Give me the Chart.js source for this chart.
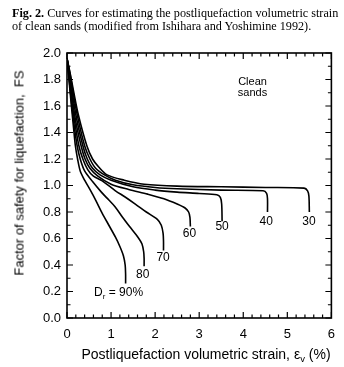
<!DOCTYPE html>
<html><head><meta charset="utf-8">
<script src="https://cdn.jsdelivr.net/npm/chart.js@4.4.1/dist/chart.umd.min.js"></script>
<style>
html,body{margin:0;padding:0;background:#fff;}
#wrap{position:relative;width:344px;height:367px;overflow:hidden;}
canvas{position:absolute;left:0;top:0;}
#cap{position:absolute;left:12px;top:7px;font-family:"Liberation Serif","Times New Roman",serif;font-size:12.2px;line-height:13px;color:#000;white-space:nowrap;}
.ttl{position:absolute;font-family:'Liberation Sans',Arial,sans-serif;color:#000;white-space:nowrap;}
</style></head><body>
<div id="wrap"><canvas id="c" width="344" height="367"></canvas>
<div id="cap"><b>Fig. 2.</b> Curves for estimating the postliquefaction volumetric strain<br>of clean sands (modified from Ishihara and Yoshimine 1992).</div>
<div class="ttl" style="left:206px;top:355px;transform:translate(-50%,-50%);font-size:14px;">Postliquefaction volumetric strain, ε<sub style="font-size:9.5px;">v</sub> (%)</div>
<div class="ttl" style="left:19px;top:173px;transform:translate(-50%,-50%) rotate(-90deg);font-size:13px;">Factor of safety for liquefaction,&nbsp;&nbsp;FS</div>
</div>
<script>
// Relative densities (%)
const densities = [30, 40, 50, 60, 70, 80, 90];
// Curves: volumetric strain (%) and factor of safety FS
const strain30 = [0,0.07,0.15,0.26,0.45,0.58,0.72,0.91,1.3,1.75,2.5,3.5,4.5,5.38,5.46,5.49,5.5];
const fs30     = [1.96,1.85,1.71,1.53,1.3,1.2,1.14,1.08,1.04,1.01,0.995,0.99,0.985,0.98,0.96,0.92,0.8];
const strain40 = [0,0.07,0.14,0.24,0.4,0.52,0.65,0.85,1.1,1.5,2.0,2.5,3.5,4.45,4.53,4.55,4.55];
const fs40     = [1.96,1.84,1.7,1.52,1.3,1.2,1.13,1.08,1.04,1.005,0.985,0.975,0.965,0.96,0.94,0.9,0.8];
const strain50 = [0,0.06,0.13,0.22,0.36,0.46,0.58,0.75,1.0,1.5,2.0,2.5,3.0,3.4,3.48,3.51,3.52];
const fs50     = [1.96,1.84,1.68,1.5,1.3,1.2,1.13,1.08,1.04,0.99,0.965,0.95,0.94,0.93,0.91,0.86,0.73];
const strain60 = [0,0.06,0.12,0.2,0.32,0.41,0.52,0.7,1.0,1.4,1.83,2.2,2.5,2.68,2.76,2.79,2.8];
const fs60     = [1.96,1.82,1.66,1.48,1.3,1.2,1.13,1.07,1.01,0.97,0.935,0.9,0.86,0.83,0.8,0.76,0.69];
const strain70 = [0,0.05,0.1,0.18,0.27,0.36,0.47,0.6,0.8,1.1,1.31,1.55,1.8,2.05,2.14,2.18,2.19,2.19];
const fs70     = [1.96,1.82,1.66,1.47,1.3,1.2,1.12,1.07,1.035,0.96,0.915,0.86,0.8,0.745,0.7,0.64,0.58,0.51];
const strain80 = [0,0.05,0.1,0.16,0.23,0.3,0.4,0.58,0.78,0.95,1.09,1.26,1.42,1.61,1.7,1.74,1.75,1.75];
const fs80     = [1.96,1.8,1.63,1.46,1.3,1.2,1.11,1.03,0.95,0.89,0.84,0.76,0.69,0.61,0.56,0.5,0.45,0.39];
const strain90 = [0,0.05,0.1,0.15,0.19,0.24,0.3,0.4,0.52,0.65,0.8,0.95,1.1,1.2,1.28,1.32,1.33,1.33];
const fs90     = [1.96,1.78,1.6,1.43,1.3,1.2,1.11,1.04,0.97,0.89,0.79,0.7,0.61,0.54,0.47,0.4,0.33,0.26];
// Axis ticks
const xTicks = [0,1,2,3,4,5,6];
const yTicks = [0.0,0.2,0.4,0.6,0.8,1.0,1.2,1.4,1.6,1.8,2.0];
// Curve labels (text, strain, FS)
const labelText = ["30","40","50","60","70","80","90%"];
const labelX = [5.49,4.52,3.52,2.78,2.18,1.72,1.17];
const labelY = [0.725,0.725,0.69,0.64,0.455,0.325,0.19];
const noteLines = ["Clean","sands"];
const noteX = [4.21,4.21];
const noteY = [1.78,1.695];

const xs = [strain30,strain40,strain50,strain60,strain70,strain80,strain90];
const ys = [fs30,fs40,fs50,fs60,fs70,fs80,fs90];
const datasets = densities.map((d,i)=>({
  label: 'Dr = '+d+'%',
  data: xs[i].map((x,j)=>({x:x,y:ys[i][j]})),
  showLine:true, pointRadius:0, borderColor:'#000', borderWidth:1.6,
  tension:0.3, fill:false
}));

const SANS = "'Liberation Sans', Arial, Helvetica, sans-serif";
const deco = {
  id:'deco',
  afterDraw(chart){
    const ctx = chart.ctx, a = chart.chartArea, sx = chart.scales.x, sy = chart.scales.y;
    ctx.save();
    ctx.strokeStyle='#000'; ctx.lineWidth=1.6;
    ctx.strokeRect(a.left, a.top, a.right-a.left, a.bottom-a.top);
    ctx.lineWidth=1.2;
    ctx.beginPath();
    for(let i=0;i<=30;i++){
      const v=i*0.2, p=sx.getPixelForValue(v), L=(i%5===0)?6:3.5;
      ctx.moveTo(p,a.bottom); ctx.lineTo(p,a.bottom-L);
      ctx.moveTo(p,a.top); ctx.lineTo(p,a.top+L);
    }
    for(let i=0;i<=20;i++){
      const v=i*0.1, p=sy.getPixelForValue(v), L=(i%2===0)?6:3.5;
      ctx.moveTo(a.left,p); ctx.lineTo(a.left+L,p);
      ctx.moveTo(a.right,p); ctx.lineTo(a.right-L,p);
    }
    ctx.stroke();
    ctx.fillStyle='#000';
    ctx.textAlign='center'; ctx.textBaseline='middle';
    ctx.font="12px "+SANS;
    for(let i=0;i<labelText.length;i++){
      const px=sx.getPixelForValue(labelX[i]), py=sy.getPixelForValue(labelY[i]);
      if(i===labelText.length-1){
        const t1="D", t3=" = "+labelText[i];
        ctx.font="12px "+SANS;
        const w1=ctx.measureText(t1).width, w3=ctx.measureText(t3).width;
        ctx.font="8px "+SANS;
        const w2=ctx.measureText("r").width;
        let x0=px-(w1+w2+w3)/2;
        ctx.textAlign='left';
        ctx.font="12px "+SANS; ctx.fillText(t1,x0,py);
        ctx.font="8px "+SANS; ctx.fillText("r",x0+w1,py+4);
        ctx.font="12px "+SANS; ctx.fillText(t3,x0+w1+w2,py);
        ctx.textAlign='center';
      } else {
        ctx.fillText(labelText[i],px,py);
      }
    }
    ctx.font="11px "+SANS;
    for(let i=0;i<noteLines.length;i++){
      ctx.fillText(noteLines[i], sx.getPixelForValue(noteX[i]), sy.getPixelForValue(noteY[i]));
    }
    ctx.restore();
  }
};

new Chart(document.getElementById('c'), {
  type:'scatter',
  data:{datasets},
  options:{
    responsive:false, animation:false, devicePixelRatio:1,
    layout:{padding:{top:53,right:5,left:0,bottom:0}},
    plugins:{legend:{display:false}, tooltip:{enabled:false}, title:{display:false}},
    scales:{
      x:{type:'linear', min:0, max:6,
        afterFit(s){s.height=49;},
        afterBuildTicks(s){s.ticks=xTicks.map(v=>({value:v}));},
        grid:{display:false, drawTicks:false}, border:{display:false},
        ticks:{color:'#000', font:{size:13, family:SANS}, padding:9, maxRotation:0, callback:v=>String(v)},
        title:{display:false}},
      y:{type:'linear', min:0, max:2,
        afterFit(s){s.width=67;},
        afterBuildTicks(s){s.ticks=yTicks.map(v=>({value:v}));},
        grid:{display:false, drawTicks:false}, border:{display:false},
        ticks:{color:'#000', font:{size:13, family:SANS}, padding:6, callback:v=>Number(v).toFixed(1)},
        title:{display:false}}
    }
  },
  plugins:[deco]
});
</script>
</body></html>
